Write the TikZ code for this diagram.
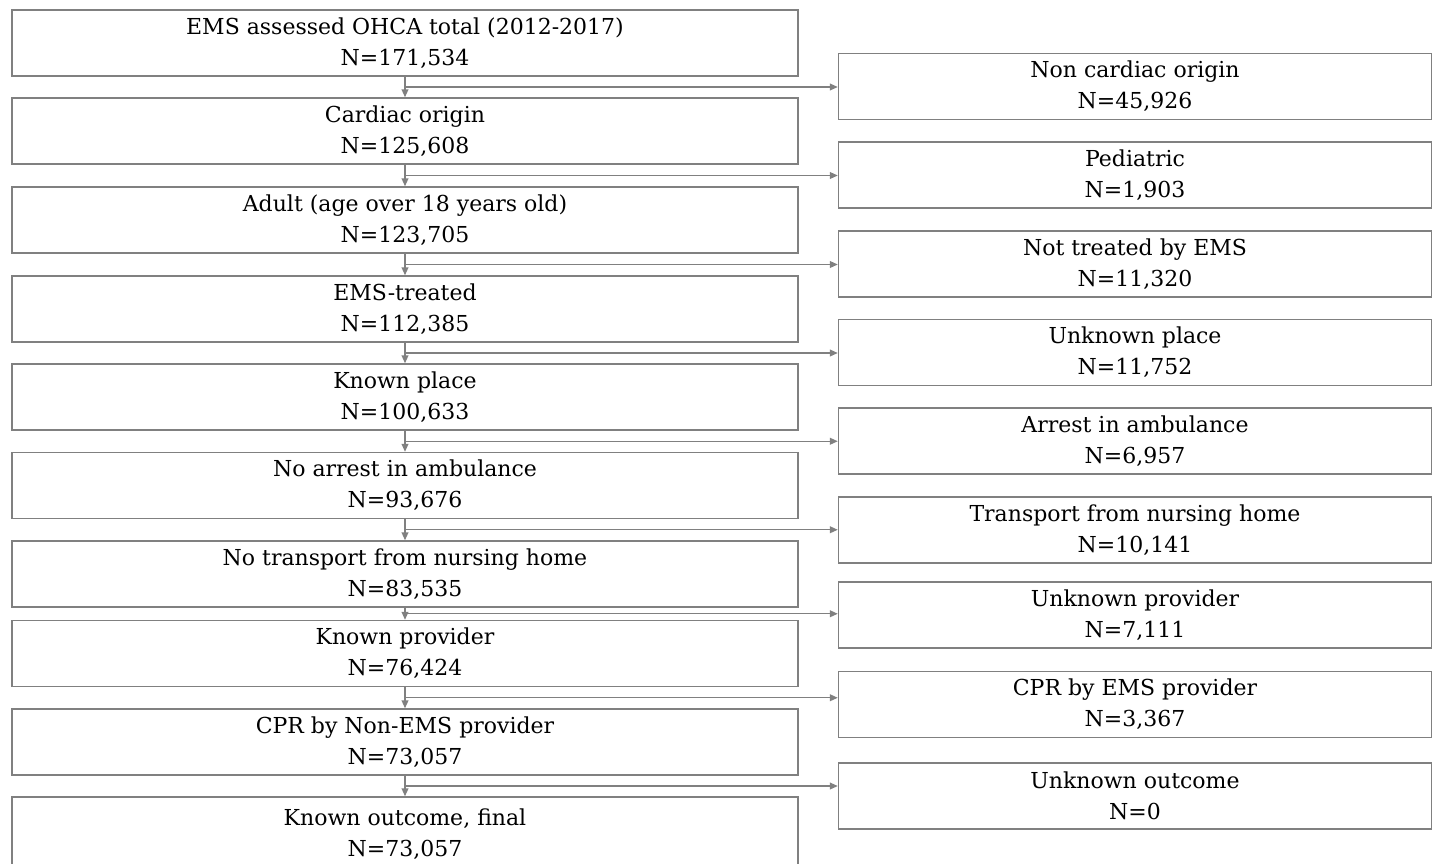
\documentclass[tikz,border=0pt]{standalone}
\usepackage{fontspec}
\setmainfont{DejaVu Serif}
\usetikzlibrary{arrows.meta}
\definecolor{boxgray}{RGB}{128,128,128}
\tikzset{
  stagebox/.style={draw=boxgray,line width=0.7pt,fill=white,align=center,inner sep=1pt,
    font=\fontsize{11}{15.5}\selectfont},
  leftbox/.style={stagebox,minimum width=393pt,minimum height=33pt},
  rightbox/.style={stagebox,minimum width=296.5pt,minimum height=33pt},
  arr/.style={draw=boxgray,line width=0.7pt,-{Triangle[length=4pt,width=3.4pt]}}
}
\begin{document}
\begin{tikzpicture}[x=0.5pt,y=-0.5pt]
\useasboundingbox (0,0) rectangle (1434,863);
\clip (0,0) rectangle (1434,863);
% main column
\foreach \i/\y/\a/\b in {1/43/{EMS assessed OHCA total (2012-2017)}/{N=171,534},
  2/131/{Cardiac origin}/{N=125,608}, 3/220/{Adult (age over 18 years old)}/{N=123,705},
  4/309/{EMS-treated}/{N=112,385}, 5/397/{Known place}/{N=100,633},
  6/485.5/{No arrest in ambulance}/{N=93,676}, 7/574/{No transport from nursing home}/{N=83,535},
  8/653.5/{Known provider}/{N=76,424}, 9/742/{CPR by Non-EMS provider}/{N=73,057}}
  \node[leftbox] (l\i) at (405,\y) {\a\\\b};
\node[leftbox,minimum height=37pt] (l10) at (405,834) {Known outcome, final\\N=73,057};
% excluded column
\foreach \i/\y/\a/\b in {1/86.5/{Non cardiac origin}/{N=45,926},
  2/175/{Pediatric}/{N=1,903}, 3/264/{Not treated by EMS}/{N=11,320},
  4/352.5/{Unknown place}/{N=11,752}, 5/441/{Arrest in ambulance}/{N=6,957},
  6/530/{Transport from nursing home}/{N=10,141}, 7/615/{Unknown provider}/{N=7,111},
  8/704.5/{CPR by EMS provider}/{N=3,367}, 9/796/{Unknown outcome}/{N=0}}
  \node[rightbox] (r\i) at (1135,\y) {\a\\\b};
% connectors
\foreach \i in {1,...,9} {
  \pgfmathtruncatemacro\j{\i+1}
  \draw[arr] (l\i.south) -- (l\j.north);
  \path (l\i.south) -- (l\j.north) coordinate[pos=0.5] (j\i);
  \draw[arr] (j\i) -- (j\i -| r\i.west);
}
\end{tikzpicture}
\end{document}
